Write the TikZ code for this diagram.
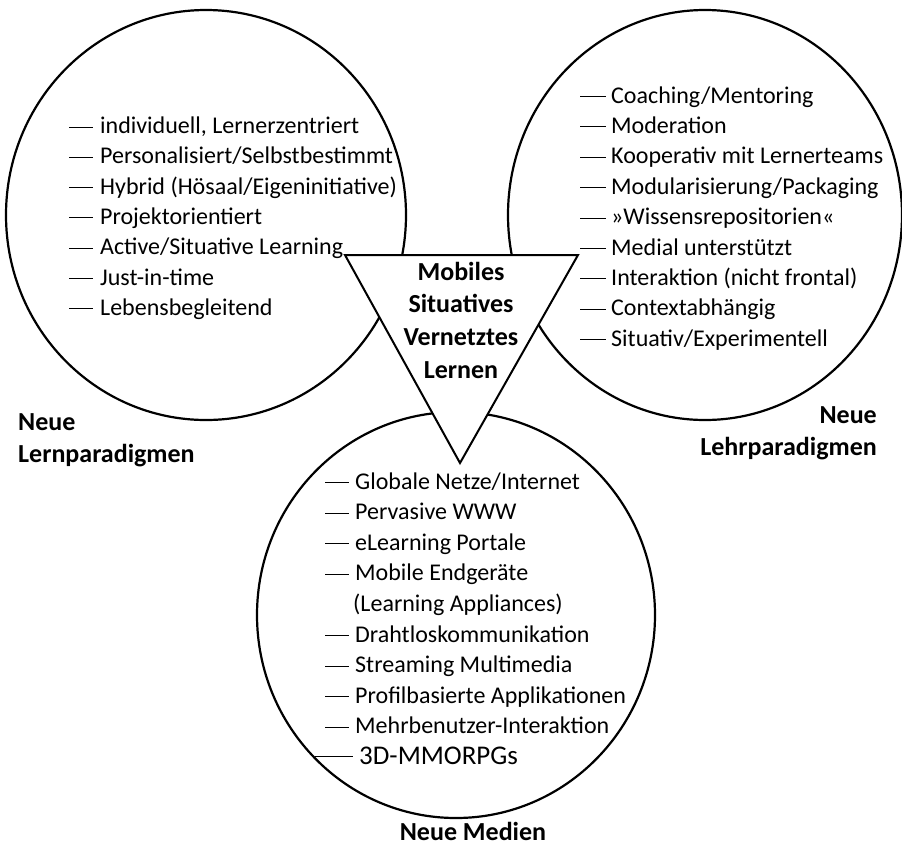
\documentclass[tikz,border=0pt]{standalone}
\usepackage{fontspec}
\setmainfont{Carlito}
\usetikzlibrary{positioning}

\tikzset{
  kreis/.style={line width=2.2pt},
  punkt/.style={anchor=base west,inner sep=0pt,font=\fontsize{24}{29}\selectfont},
  titel/.style={anchor=base,inner sep=0pt,font=\bfseries\fontsize{26}{32}\selectfont},
  strich/.style={line width=1pt},
}

\begin{document}
\begin{tikzpicture}[x=1pt,y=-1pt]
    \useasboundingbox (0,0) rectangle (902,863);
    % Draw the three circles
    \draw[kreis] (206,215) ellipse [x radius=200pt,y radius=205pt];
    \draw[kreis] (705,215) ellipse [x radius=197pt,y radius=205pt];
    \draw[kreis] (456,615) ellipse [x radius=199pt,y radius=203pt];
    % Triangle in the middle covers the circles
    \coordinate (tl) at (345,255);
    \coordinate (tr) at (578,255);
    \coordinate (tb) at (460,463);
    \draw[kreis,line width=2pt,fill=white] (tl) -- (tr) -- (tb) -- cycle;
    \foreach \txt [count=\i from 0] in {Mobiles,Situatives,Vernetztes,Lernen}
        \node[titel] (mitte\i) at (461,{280+32.7*\i}) {\txt};
    % Left circle: Lernparadigmen
    \foreach \txt [count=\i from 0] in {{individuell, Lernerzentriert},
        Personalisiert/Selbstbestimmt,Hybrid (Hösaal/Eigeninitiative),
        Projektorientiert,Active/Situative Learning,Just-in-time,Lebensbegleitend}
    {
        \node[punkt] (lern\i) at (100,{133.5+30.33*\i}) {\txt};
        \draw[strich] ([shift={(-31,-6.5)}]lern\i.base west) -- ([shift={(-7,-6.5)}]lern\i.base west);
    }
    % Right circle: Lehrparadigmen
    \foreach \txt [count=\i from 0] in {Coaching/Mentoring,Moderation,
        Kooperativ mit Lernerteams,Modularisierung/Packaging,»Wissensrepositorien«,
        Medial unterstützt,Interaktion (nicht frontal),Contextabhängig,
        Situativ/Experimentell}
    {
        \node[punkt] (lehr\i) at (611,{103+30.4*\i}) {\txt};
        \draw[strich] ([shift={(-31,-6.5)}]lehr\i.base west) -- ([shift={(-5,-6.5)}]lehr\i.base west);
    }
    % Bottom circle: Medien
    \foreach \txt [count=\i from 0] in {Globale Netze/Internet,Pervasive WWW,
        eLearning Portale,Mobile Endgeräte}
    {
        \node[punkt] (medien\i) at (355,{489+30.6*\i}) {\txt};
        \draw[strich] ([shift={(-30,-6.5)}]medien\i.base west) -- ([shift={(-6,-6.5)}]medien\i.base west);
    }
    \node[punkt] (medien4) at (353,{489+30.6*4}) {(Learning Appliances)};
    \foreach \txt [count=\i from 5] in {Drahtloskommunikation,Streaming Multimedia,
        Profilbasierte Applikationen,Mehrbenutzer-Interaktion}
    {
        \node[punkt] (medien\i) at (355,{489+30.6*\i}) {\txt};
        \draw[strich] ([shift={(-30,-6.5)}]medien\i.base west) -- ([shift={(-6,-6.5)}]medien\i.base west);
    }
    \node[punkt,font=\fontsize{27}{32}\selectfont] (medien9) at (359,{489+30.6*9}) {3D-MMORPGs};
    \draw[strich] ([shift={(-44,-7.5)}]medien9.base west) -- ([shift={(-6,-7.5)}]medien9.base west);
    % Labels of the circles
    \node[titel,anchor=base west] (lernA) at (18,430) {Neue};
    \node[titel,anchor=base west] (lernB) at (18,462) {Lernparadigmen};
    \node[titel,anchor=base east] (lehrA) at (877,423) {Neue};
    \node[titel,anchor=base east] (lehrB) at (877,455) {Lehrparadigmen};
    \node[titel] (medienA) at (473,840) {Neue Medien};
\end{tikzpicture}
\end{document}
